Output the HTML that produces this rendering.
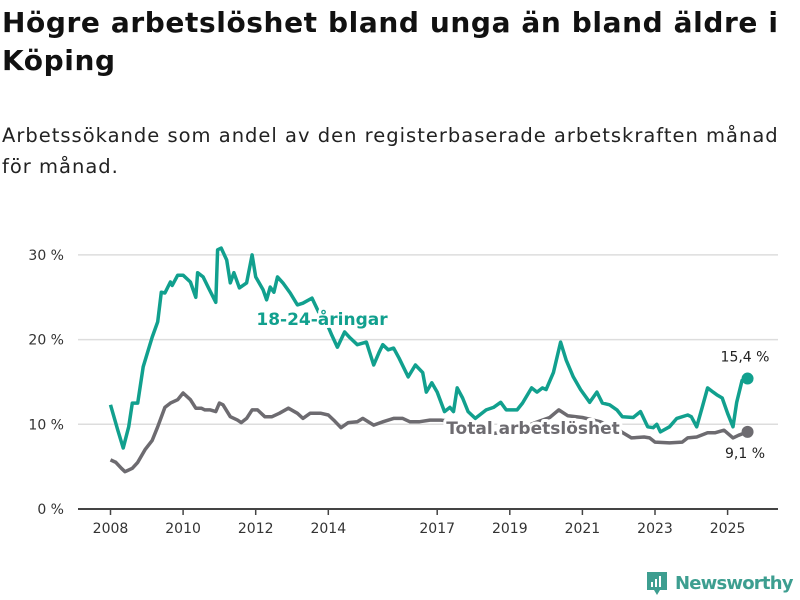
<!DOCTYPE html>
<html><head><meta charset="utf-8">
<style>
body{margin:0;width:800px;height:600px;background:#fff;font-family:"Liberation Sans","DejaVu Sans",sans-serif;overflow:hidden;position:relative}
h1{position:absolute;left:2px;top:4px;margin:0;width:795px;font-size:28px;line-height:38px;font-weight:bold;color:#111;font-family:"DejaVu Sans","Liberation Sans",sans-serif;letter-spacing:0.6px}
.sub{position:absolute;left:2px;top:120px;width:795px;font-size:19.5px;line-height:31px;color:#222;font-family:"DejaVu Sans","Liberation Sans",sans-serif;letter-spacing:1px}
svg text{font-family:"DejaVu Sans","Liberation Sans",sans-serif}
</style></head><body>
<h1>Högre arbetslöshet bland unga än bland äldre i Köping</h1>
<div class="sub">Arbetssökande som andel av den registerbaserade arbetskraften månad för månad.</div>
<svg id="chart" width="800" height="600" style="position:absolute;left:0;top:0"></svg>
<div style="position:absolute;left:645px;top:570px;display:flex;align-items:center">
<svg width="24" height="26" viewBox="0 0 24 26"><path d="M2 2h20v18h-7l-3 5-3-5H2z" fill="#3d9e90"/><rect x="6" y="12" width="2" height="5" fill="#fff"/><rect x="10" y="9" width="2" height="8" fill="#fff"/><rect x="14" y="6" width="2" height="11" fill="#fff"/></svg>
<span style="font-family:'DejaVu Sans',sans-serif;font-size:18px;color:#3d9e90;margin-left:6px;font-weight:bold;letter-spacing:-0.8px">Newsworthy</span></div>
<script>
const youngYears=[2008.0,2008.2,2008.35,2008.5,2008.6,2008.75,2008.9,2009.15,2009.3,2009.4,2009.5,2009.65,2009.7,2009.85,2010.0,2010.2,2010.35,2010.4,2010.55,2010.7,2010.9,2010.95,2011.05,2011.2,2011.3,2011.4,2011.55,2011.75,2011.9,2012.0,2012.2,2012.3,2012.4,2012.5,2012.6,2012.75,2012.95,2013.15,2013.3,2013.55,2013.75,2014.0,2014.1,2014.25,2014.45,2014.6,2014.8,2015.05,2015.25,2015.4,2015.5,2015.65,2015.8,2015.95,2016.2,2016.4,2016.6,2016.7,2016.85,2017.0,2017.2,2017.35,2017.45,2017.55,2017.7,2017.85,2018.05,2018.35,2018.55,2018.75,2018.9,2019.2,2019.35,2019.6,2019.75,2019.9,2020.0,2020.2,2020.4,2020.55,2020.75,2020.95,2021.2,2021.4,2021.55,2021.75,2021.95,2022.1,2022.4,2022.6,2022.8,2022.95,2023.05,2023.15,2023.4,2023.6,2023.9,2024.0,2024.15,2024.3,2024.45,2024.6,2024.7,2024.85,2025.0,2025.15,2025.25,2025.4,2025.55];
const youngValues=[12.3,9.3,7.2,9.7,12.5,12.5,16.8,20.3,22.1,25.6,25.5,26.8,26.4,27.6,27.6,26.8,25,27.9,27.4,26.1,24.4,30.6,30.8,29.4,26.7,27.9,26.1,26.7,30,27.4,25.9,24.7,26.2,25.6,27.4,26.7,25.5,24.1,24.3,24.9,23.1,21.5,20.5,19.1,20.9,20.2,19.4,19.7,17,18.5,19.4,18.8,19,17.8,15.6,17,16.1,13.8,14.9,13.8,11.5,12,11.5,14.3,13.1,11.5,10.7,11.7,12,12.6,11.7,11.7,12.5,14.3,13.8,14.3,14.1,16.1,19.7,17.6,15.6,14.1,12.6,13.8,12.5,12.3,11.7,10.9,10.8,11.5,9.7,9.6,10,9.1,9.7,10.7,11.1,10.9,9.7,12,14.3,13.8,13.5,13.1,11.3,9.7,12.6,15.2,15.4];
const totalYears=[2008.0,2008.15,2008.3,2008.4,2008.6,2008.75,2008.95,2009.15,2009.3,2009.5,2009.65,2009.85,2010.0,2010.2,2010.35,2010.5,2010.6,2010.75,2010.9,2011.0,2011.1,2011.3,2011.5,2011.6,2011.75,2011.9,2012.05,2012.25,2012.45,2012.65,2012.9,2013.15,2013.3,2013.5,2013.8,2014.0,2014.15,2014.35,2014.55,2014.8,2014.95,2015.25,2015.5,2015.8,2016.05,2016.25,2016.5,2016.8,2017.1,2017.5,2018.0,2018.3,2018.7,2019.2,2019.7,2020.1,2020.35,2020.6,2021.0,2021.5,2022.0,2022.35,2022.7,2022.85,2023.0,2023.4,2023.75,2023.9,2024.15,2024.45,2024.65,2024.9,2025.15,2025.3,2025.55];
const totalValues=[5.8,5.5,4.8,4.4,4.8,5.5,7,8.1,9.7,12,12.5,12.9,13.7,12.9,11.9,11.9,11.7,11.7,11.5,12.5,12.3,10.9,10.5,10.2,10.7,11.7,11.7,10.9,10.9,11.3,11.9,11.3,10.7,11.3,11.3,11.1,10.5,9.6,10.2,10.3,10.7,9.9,10.3,10.7,10.7,10.3,10.3,10.5,10.5,10.3,9.6,8.8,9.0,9.3,10.2,10.8,11.7,11.0,10.8,10.3,9.3,8.4,8.5,8.4,7.9,7.8,7.9,8.4,8.5,9.0,9.0,9.3,8.4,8.7,9.1];
const xTicks=[2008,2010,2012,2014,2017,2019,2021,2023,2025];
const yTicks=[0,10,20,30];
const yTickLabels=["0 %","10 %","20 %","30 %"];

const NS="http://www.w3.org/2000/svg";
const svg=document.getElementById('chart');
const xs=y=>110.5+(y-2008)*36.3;
const ys=v=>509-v*8.47;
function mk(t,a,p){const e=document.createElementNS(NS,t);for(const k in a)e.setAttribute(k,a[k]);(p||svg).appendChild(e);return e;}
yTicks.forEach((v,i)=>{
  const g=mk('line',{x1:78,x2:778,y1:ys(v),y2:ys(v),stroke:v===0?'#444':'#ddd','stroke-width':v===0?2:1.5});
  
  
  const t=mk('text',{x:64,y:ys(v)+5,'text-anchor':'end','font-size':14,fill:'#333'});
  t.textContent=yTickLabels[i];
  
  
});
xTicks.forEach(yr=>{
  const l=mk('line',{x1:xs(yr),x2:xs(yr),y1:509,y2:515,stroke:'#444','stroke-width':1.5});
  
  
  const t=mk('text',{x:xs(yr),y:533,'text-anchor':'middle','font-size':14,fill:'#333'});
  t.textContent=yr;
  
  
});
function line(years,vals,color,name){
  const d=years.map((y,i)=>(i?'L':'M')+xs(y).toFixed(1)+','+ys(vals[i]).toFixed(1)).join('');
  const p=mk('path',{d:d,fill:'none',stroke:color,'stroke-width':3.5,'stroke-linejoin':'round'});
  
  
  const n=years.length-1;
  const c=mk('circle',{cx:xs(years[n]),cy:ys(vals[n]),r:6,fill:color});
  
  
}
line(totalYears,totalValues,'#6d6b70','total-line');
line(youngYears,youngValues,'#11a08e','young-line');
function lbl(x,y,txt,color,size,bold,name){
  const t=mk('text',{x:x,y:y,'text-anchor':'middle','font-size':size,fill:color,'font-weight':bold?'bold':'normal',stroke:'#fff','stroke-width':bold?6:4,'paint-order':'stroke','stroke-linejoin':'round'});
  t.textContent=txt;
  
  
}
lbl(322,325,'18-24-åringar','#11a08e',17,true,'young-series-label');
lbl(533,434,'Total arbetslöshet','#6d6b70',17,true,'total-series-label');
const ny=youngYears.length-1, nt=totalYears.length-1;
lbl(745,ys(youngValues[ny])-17,youngValues[ny].toFixed(1).replace('.',',')+' %','#222',14,false,'young-end-value');
lbl(745,ys(totalValues[nt])+26,totalValues[nt].toFixed(1).replace('.',',')+' %','#222',14,false,'total-end-value');
</script>
</body></html>
